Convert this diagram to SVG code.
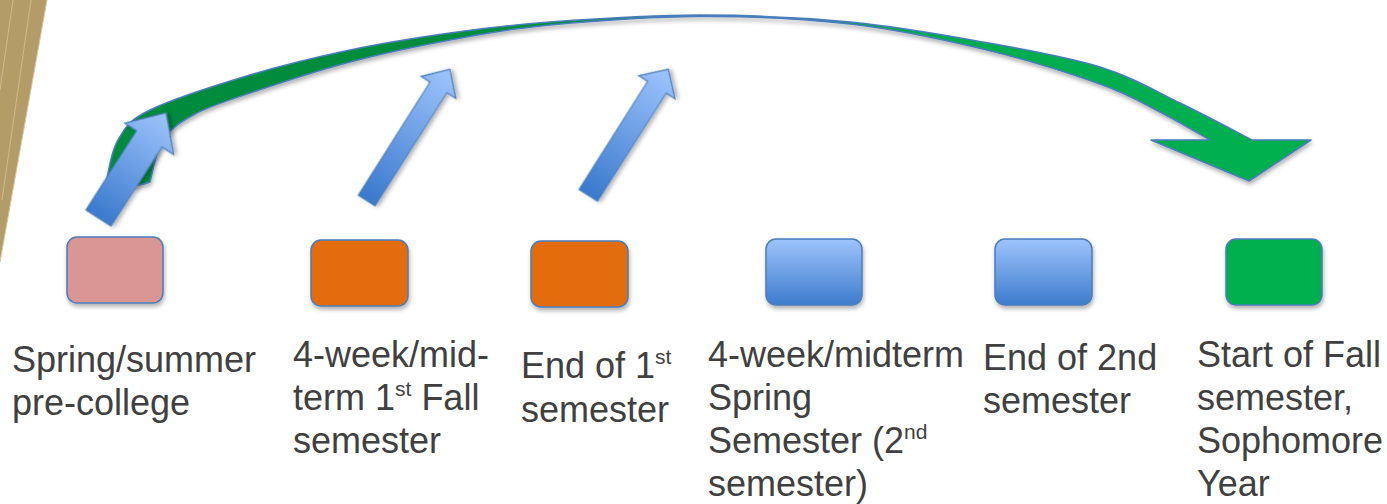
<svg xmlns="http://www.w3.org/2000/svg" width="1387" height="504" viewBox="0 0 1387 504">
<defs>
<style>
.lbl{font-family:"Liberation Sans",Arial,sans-serif;font-size:36px;fill:#404040}
.sup{font-size:21px}
.box{stroke:#4A7EBB;stroke-width:1.5}
.barrow{fill:url(#ag);stroke:#4A7EBB;stroke-width:1.2}
</style>
<linearGradient id="ag" x1="1" y1="0" x2="0" y2="0">
<stop offset="0" stop-color="#9EC4FC"/>
<stop offset="1" stop-color="#3A79CD"/>
</linearGradient>
<linearGradient id="bg" x1="0" y1="0" x2="0" y2="1">
<stop offset="0" stop-color="#9EC4FC"/>
<stop offset="1" stop-color="#3D7BCC"/>
</linearGradient>
<linearGradient id="gg" x1="0" y1="0" x2="1" y2="0">
<stop offset="0" stop-color="#008A3D"/>
<stop offset="0.45" stop-color="#008E3E"/>
<stop offset="0.7" stop-color="#00AC4E"/>
<stop offset="1" stop-color="#00B050"/>
</linearGradient>
<filter id="sh" x="-20%" y="-20%" width="140%" height="150%">
<feDropShadow dx="1" dy="3" stdDeviation="2" flood-color="#000" flood-opacity="0.3"/>
</filter>
</defs>
<rect width="1387" height="504" fill="#fff"/>
<g id="decor">
<polygon points="0,0 47,0 0,262" fill="#B39C68"/>
<line x1="13" y1="0" x2="0" y2="90" stroke="#CDBB8E" stroke-width="1"/>
<line x1="31" y1="0" x2="2" y2="200" stroke="#CDBB8E" stroke-width="1"/>
<line x1="47" y1="0" x2="0" y2="262" stroke="#D8C89E" stroke-width="1"/>
</g>
<g id="connectors">
<path id="green-arc" filter="url(#sh)" fill="url(#gg)" stroke="#4A7EBB" stroke-width="1.5" stroke-linejoin="round"
 d="M106,183 C108,175.8 110.7,152.2 118,140 C125.3,127.8 128,120.8 150,110 C172,99.2 216.7,85 250,75 C283.3,65 316.7,57 350,50 C383.3,43 416.7,37.7 450,33 C483.3,28.3 508.3,25 550,22 C591.7,19 650,15 700,15 C750,15 802.8,17.5 850,22 C897.2,26.5 941.3,34.5 983,42 C1024.7,49.5 1067.2,56.8 1100,67 C1132.8,77.2 1154.7,90.8 1180,103 C1205.3,115.2 1240,133.8 1252,140 L1311,140 L1249,181 L1151,140 L1210,140 C1201.7,135.3 1178.3,121.3 1160,112 C1141.7,102.7 1129.5,94.5 1100,84 C1070.5,73.5 1024.7,59 983,49 C941.3,39 897.2,29.4 850,24 C802.8,18.6 750,16.3 700,16.5 C650,16.7 591.7,21.1 550,25 C508.3,28.9 483.3,33.8 450,40 C416.7,46.2 383.3,53.2 350,62 C316.7,70.8 275.8,84.3 250,93 C224.2,101.7 209.5,106.2 195,114 C180.5,121.8 170.5,128.7 163,140 C155.5,151.3 152.2,175 150,182 Q128,190 106,183 Z"/>
<polygon class="barrow" filter="url(#sh)" transform="translate(98.5,218) rotate(-57.3)" points="0,-15 94,-15 94,-29 125,0 94,29 94,15 0,15"/>
<polygon class="barrow" filter="url(#sh)" transform="translate(366.7,200.5) rotate(-57.6)" points="0,-10 134,-10 134,-20.5 155.4,0 134,20.5 134,10 0,10"/>
<polygon class="barrow" filter="url(#sh)" transform="translate(588.3,195.3) rotate(-57.6)" points="0,-11 128,-11 128,-21.5 149.3,0 128,21.5 128,11 0,11"/>
</g>
<g id="node1">
<rect class="box" filter="url(#sh)" x="67" y="237" width="96" height="66" rx="10" fill="#D99694"/>
<text class="lbl" x="12" y="372">Spring/summer</text>
<text class="lbl" x="12" y="415">pre-college</text>
</g>
<g id="node2">
<rect class="box" filter="url(#sh)" x="311" y="240" width="97" height="66" rx="10" fill="#E36C0A"/>
<text class="lbl" x="293" y="367">4-week/mid-</text>
<text class="lbl" x="293" y="410">term 1<tspan class="sup" dy="-14">st</tspan><tspan dy="14"> Fall</tspan></text>
<text class="lbl" x="293" y="453">semester</text>
</g>
<g id="node3">
<rect class="box" filter="url(#sh)" x="531" y="241" width="97" height="66" rx="10" fill="#E36C0A"/>
<text class="lbl" x="521" y="378">End of 1<tspan class="sup" dy="-14">st</tspan></text>
<text class="lbl" x="521" y="422">semester</text>
</g>
<g id="node4">
<rect class="box" filter="url(#sh)" x="766" y="239" width="96" height="66" rx="10" fill="url(#bg)"/>
<text class="lbl" x="708" y="367">4-week/midterm</text>
<text class="lbl" x="708" y="410">Spring</text>
<text class="lbl" x="708" y="453">Semester (2<tspan class="sup" dy="-14">nd</tspan></text>
<text class="lbl" x="708" y="496">semester)</text>
</g>
<g id="node5">
<rect class="box" filter="url(#sh)" x="995" y="239" width="97" height="66" rx="10" fill="url(#bg)"/>
<text class="lbl" x="983" y="370">End of 2nd</text>
<text class="lbl" x="983" y="413">semester</text>
</g>
<g id="node6">
<rect class="box" filter="url(#sh)" x="1226" y="239" width="96" height="66" rx="10" fill="#00B050"/>
<text class="lbl" x="1197" y="367">Start of Fall</text>
<text class="lbl" x="1197" y="410">semester,</text>
<text class="lbl" x="1197" y="453">Sophomore</text>
<text class="lbl" x="1197" y="496">Year</text>
</g>
</svg>
